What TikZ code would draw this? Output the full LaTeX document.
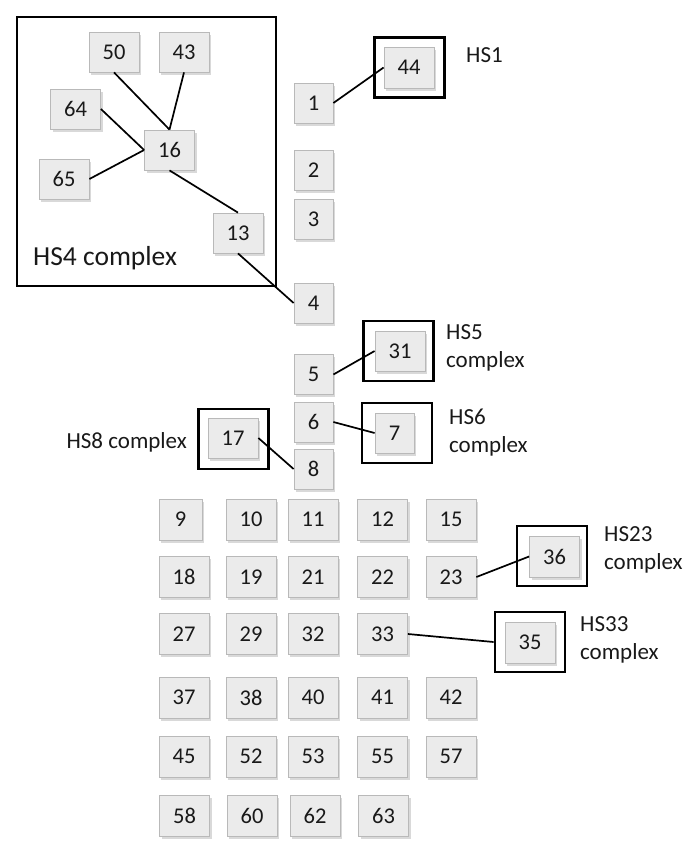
\documentclass[tikz,border=0pt]{standalone}
\usepackage{fontspec}
\setmainfont{Carlito}
\usetikzlibrary{shadows}

\begin{document}
\begin{tikzpicture}[x=1pt,y=-1pt,
    cell/.style={draw=gray!55,fill=gray!16,line width=0.8pt,minimum width=50pt,minimum height=41pt,inner sep=0pt,
      font=\fontsize{22.5}{26}\selectfont,text=black!90,
      drop shadow={shadow xshift=2pt,shadow yshift=-2.5pt,opacity=0.3}},
    slim/.style={cell,minimum width=39pt,minimum height=40pt},
    frame/.style={draw,line width=2.8pt,minimum width=70pt,minimum height=60pt,inner sep=0pt},
    hs/.style={align=left,font=\fontsize{23}{28}\selectfont,text=black!90,inner sep=0pt},
    link/.style={line width=1.7pt}]
    \useasboundingbox (0,0) rectangle (700,863);

    % HS4 complex
    \node[draw,line width=2.8pt,minimum width=259pt,minimum height=269pt,inner sep=0pt] (f16) at (146.5,151.5) {};
    \node[hs,anchor=base west,font=\fontsize{27.5}{32}\selectfont] (l16) at (33,265) {HS4 complex};
    \foreach \n/\x/\y in {50/114/52,43/184/52,64/75.5/109,16/169.5/150,65/64/179,13/238/233} {
        \node[cell,minimum height=40pt] (c\n) at (\x,\y) {\n};
    }

    % column of single boxes
    \foreach \n/\y in {1/103,2/170,3/219,4/303,5/374.5,6/422,8/469} {
        \node[slim] (c\n) at (313.5,\y) {\n};
    }

    % HS frames
    \node[frame] (f44) at (409.5,67.5) {};
    \node[frame] (f31) at (398.5,351) {};
    \node[frame] (f7) at (397,433) {};
    \node[frame] (f17) at (233.5,439) {};
    \node[frame] (f36) at (552,556) {};
    \node[frame] (f35) at (530,642) {};
    \node[cell] (c44) at (409,67.5) {44};
    \node[cell,minimum height=40pt] (c31) at (400,351) {31};
    \node[slim] (c7) at (394.5,433) {7};
    \node[cell,minimum height=40pt] (c17) at (233,438) {17};
    \node[cell] (c36) at (554.5,556.5) {36};
    \node[cell] (c35) at (530,642.5) {35};
    \node[hs,anchor=base west] (l44) at (466,62) {HS1};
    \node[hs,anchor=west] (l31) at (446,348) {HS5\\complex};
    \node[hs,anchor=west] (l7) at (449,433) {HS6\\complex};
    \node[hs,anchor=base east] (l17) at (187,448) {HS8 complex};
    \node[hs,anchor=west] (l36) at (604,550) {HS23\\complex};
    \node[hs,anchor=west] (l35) at (580,640) {HS33\\complex};

    % grid
    \node[cell,minimum width=43pt] (c9) at (180.5,519.5) {9};
    \foreach \n/\x in {10/251,11/313,12/382.5,15/451} \node[cell] (c\n) at (\x,519.5) {\n};
    \foreach \n/\x in {18/184,19/251,21/313,22/382.5,23/451} \node[cell] (c\n) at (\x,577) {\n};
    \foreach \n/\x in {27/184,29/251,32/313,33/382.5} \node[cell] (c\n) at (\x,634) {\n};
    \foreach \n/\x in {37/184,38/251,40/313,41/382.5,42/451} \node[cell] (c\n) at (\x,697.5) {\n};
    \foreach \n/\x in {45/184,52/251,53/313,55/382.5,57/451} \node[cell] (c\n) at (\x,756.5) {\n};
    \foreach \n/\x in {58/184.5,60/252,62/315,63/383.5} \node[cell] (c\n) at (\x,815.5) {\n};

    % links
    \draw[link] (c50.south) -- (c16.north);
    \draw[link] (c43.south) -- (c16.north);
    \draw[link] (c64.east) -- (c16.west);
    \draw[link] (c65.east) -- (c16.west);
    \draw[link] (c16.south) -- (c13.north);
    \draw[link] (c13.south) -- (c4.west);
    \draw[link] (c1.east) -- (c44.west);
    \draw[link] (c5.east) -- (c31.west);
    \draw[link] (c6.east) -- (c7.west);
    \draw[link] (c17.east) -- (c8.west);
    \draw[link] (c23.east) -- (c36.west);
    \draw[link] (c33.east) -- (f35.west);
\end{tikzpicture}
\end{document}
